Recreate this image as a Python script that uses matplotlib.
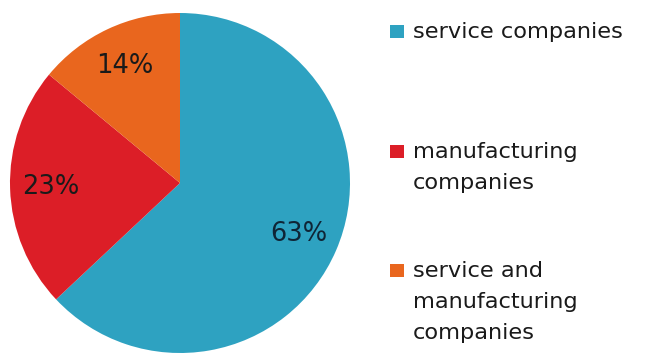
import matplotlib
matplotlib.use("Agg")
import matplotlib.pyplot as plt
from matplotlib.patches import Rectangle
import numpy as np

categories = ["service companies", "manufacturing\ncompanies", "service and\nmanufacturing\ncompanies"]
shares = [63, 23, 14]
colors = ["#2EA2C1", "#DC1E27", "#E9661E"]
pct_labels = ["63%", "23%", "14%"]
pct_colors = ["#0f2536", "#1a1a1a", "#1a1a1a"]

W, H = 646, 354
fig = plt.figure(figsize=(W / 100, H / 100), dpi=100)
fig.patch.set_facecolor("white")

# pie axes: center (180,183) px, radius 170 px
cx, cy, r = 180, 183, 170
ax = fig.add_axes([(cx - r) / W, (H - cy - r) / H, 2 * r / W, 2 * r / H])
wedges, texts = ax.pie(shares, colors=colors, startangle=90, counterclock=False,
                       wedgeprops=dict(linewidth=0))
ax.set_aspect("equal")
ax.set_xlim(-1, 1)
ax.set_ylim(-1, 1)
ax.axis("off")

for w, lab, col in zip(wedges, pct_labels, pct_colors):
    mid = np.deg2rad((w.theta1 + w.theta2) / 2)
    ax.text(0.76 * np.cos(mid), 0.76 * np.sin(mid), lab, ha="center", va="center",
            fontsize=18.5, color=col, family="DejaVu Sans")

# legend, manual placement
baselines = [38, 158, 277]
line_step = 31
for cat, col, yb in zip(categories, colors, baselines):
    fig.patches.append(Rectangle((390 / W, (H - yb) / H), 14 / W, 13 / H,
                                 transform=fig.transFigure, facecolor=col,
                                 edgecolor="none"))
    for i, line in enumerate(cat.split("\n")):
        fig.text(413 / W, (H - yb - i * line_step) / H, line, ha="left",
                 va="baseline", fontsize=16.2, color="#1a1a1a", family="DejaVu Sans")

fig.savefig("out.png", dpi=100, facecolor="white")
